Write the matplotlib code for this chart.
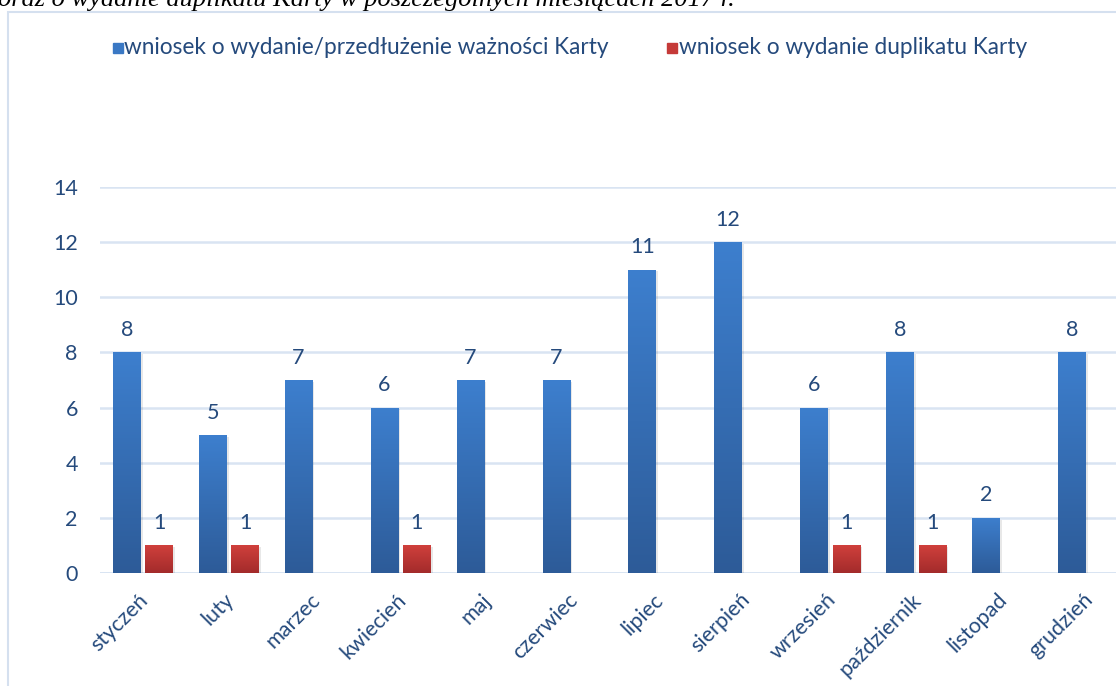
import numpy as np
import matplotlib.pyplot as plt
import matplotlib.transforms as mtrans
from matplotlib.patches import Rectangle
from matplotlib.colors import LinearSegmentedColormap

months = ['styczeń', 'luty', 'marzec', 'kwiecień', 'maj', 'czerwiec',
          'lipiec', 'sierpień', 'wrzesień', 'październik', 'listopad', 'grudzień']
wydanie = [8, 5, 7, 6, 7, 7, 11, 12, 6, 8, 2, 8]
duplikat = [1, 1, 0, 1, 0, 0, 0, 0, 1, 1, 0, 0]
ser_names = ['wniosek o wydanie/przedłużenie ważności Karty',
             'wniosek o wydanie duplikatu Karty']

txt = '#254a7c'
grid_c = '#d9e4f2'
plt.rcParams['font.family'] = ['Lato', 'DejaVu Sans']
fs = 15.5

fig = plt.figure(figsize=(11.16, 6.86), dpi=100)
# chart frame (cut off at right/bottom like the source)
fig.patches.append(Rectangle((8 / 1116, -0.1), 1.2, 1 - 12 / 686 + 0.1,
                             transform=fig.transFigure, fill=False,
                             edgecolor='#d5e0ef', lw=1.5))
fig.text(-0.002, 1 - 6 / 686, 'oraz o wydanie duplikatu Karty w poszczególnych miesiącach 2017 r.',
         family='Liberation Serif', style='italic', fontsize=19, va='baseline', color='black')

ax = fig.add_axes([100 / 1116, 1 - 573 / 686, 1031 / 1116, (573 - 187) / 686])
x = np.arange(len(months))
w = 0.32
off = 0.189

blue = LinearSegmentedColormap.from_list('b', ['#2d5b98', '#3d7fce'])
red = LinearSegmentedColormap.from_list('r', ['#a32b2b', '#d0403c'])
grad = np.linspace(0, 1, 256).reshape(-1, 1)

def draw(xs, vals, cmap, col):
    bars = ax.bar(xs, vals, w, color=col, zorder=3)
    for b, v in zip(bars, vals):
        if v == 0:
            b.set_visible(False)
            continue
        # soft shadow
        ax.add_patch(Rectangle((b.get_x() + 0.025, -0.04), b.get_width(), v - 0.02,
                               color='#000000', alpha=0.09, zorder=2.5, lw=0))
        im = ax.imshow(grad, cmap=cmap, aspect='auto', origin='lower',
                       extent=[b.get_x(), b.get_x() + b.get_width(), 0, v], zorder=3.1)
        im.set_clip_path(b)
        ax.text(b.get_x() + b.get_width() / 2, v + 0.45, str(v), ha='center', va='bottom',
                fontsize=fs, color=txt)
    return bars

draw(x - off, wydanie, blue, '#3a78c4')
draw(x + off, duplikat, red, '#c53a38')

ax.set_xlim(-0.5, len(months) - 0.5)
ax.set_ylim(0, 14)
ax.set_yticks(range(0, 15, 2))
ax.yaxis.grid(True, color=grid_c, lw=1.8)
ax.set_axisbelow(True)
for s in ax.spines.values():
    s.set_visible(False)
ax.axhline(0, color=grid_c, lw=2, zorder=2)
ax.tick_params(axis='both', length=0, labelsize=fs, colors=txt)
ax.tick_params(axis='y', pad=16)
ax.set_xticks(x)
ax.set_xticklabels(months, rotation=45, ha='right', va='top', rotation_mode='anchor')
ax.tick_params(axis='x', pad=12)
for lab in ax.get_xticklabels():
    lab.set_transform(lab.get_transform() + mtrans.ScaledTranslation(-0.05, 0, fig.dpi_scale_trans))

# legend
lfs = 16.3
fig.patches.append(Rectangle((113 / 1116, 1 - 53 / 686), 10 / 1116, 10 / 686,
                             transform=fig.transFigure, color='#3a78c4'))
fig.text(124 / 1116, 1 - 47 / 686, ser_names[0], fontsize=lfs, color=txt, va='center')
fig.patches.append(Rectangle((667 / 1116, 1 - 53 / 686), 10 / 1116, 10 / 686,
                             transform=fig.transFigure, color='#c53a38'))
fig.text(679 / 1116, 1 - 47 / 686, ser_names[1], fontsize=lfs, color=txt, va='center')

fig.savefig('out.png', dpi=100)
